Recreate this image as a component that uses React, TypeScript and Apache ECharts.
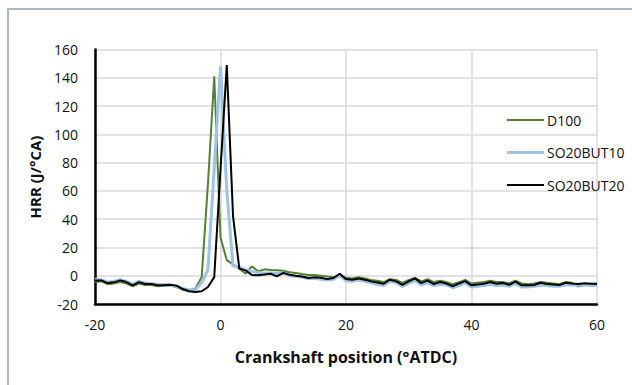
import React, { useEffect, useRef } from "react";
import * as echarts from "echarts";

const crankAngles: number[] = Array.from({ length: 81 }, (_, i) => i - 20);

const d100: number[] = [
  -4.5, -4, -6, -5.5, -4.5, -5.5, -7.5, -5.5, -6.5, -6.5,
  -7.5, -7, -7, -8, -10, -11, -9, -1, 65, 141,
  27, 11, 8, 5, 1.5, 6.6, 3, 4.5, 4, 3.8,
  3.5, 2.4, 2, 1.2, 0.5, 0.5, 0, -0.5, -1, 0.5,
  -1.5, -2, -1, -2, -3, -3.5, -4.5, -2.5, -3, -5,
  -3, -1.5, -4, -2.5, -4.5, -3.5, -4.5, -6, -4.5, -3,
  -5.5, -5, -4.5, -3.5, -4.5, -4.5, -5.5, -3.5, -5.5, -6,
  -5.5, -4.5, -5, -5.5, -6, -4.5, -5, -7.5, -6.5, -5.5,
  -5.5,
];

const so20but10: number[] = [
  -2.5, -2.8, -4.5, -4, -2.8, -4, -6, -4, -5.2, -5.5,
  -6.2, -6.2, -6.5, -7.5, -9, -10, -10, -5, 4, 76,
  148, 60, 7, 6, 4, 3, 2.2, 2, 2, 1.5,
  1.8, 0, -0.5, -1, -2, -2, -2.5, -3, -2.5, 0,
  -3.5, -4, -3, -4, -5, -6, -7, -4, -5, -7.5,
  -5.5, -3.5, -6.5, -5, -7, -6, -6.5, -8.5, -7, -5,
  -8, -7.5, -7, -6, -7, -6.5, -7.5, -5.5, -8, -8,
  -7.5, -6.5, -7, -7.5, -7.5, -6.5, -6.5, -6.5, -6.5, -7,
  -7,
];

const so20but20: number[] = [
  -3.3, -3.3, -5.2, -4.7, -3.3, -4.5, -6.8, -4.5, -5.9, -5.9,
  -6.8, -6.8, -6.4, -7, -9.4, -11, -11.5, -11, -8, -1,
  75, 149, 42, 5, 3.8, 0.5, 0.3, 0.8, 1.4, -0.5,
  2, 0.7, 0, -0.5, -1.6, -1, -1.5, -2.4, -1.6, 1.4,
  -2.4, -2.8, -1.9, -2.8, -4, -4.8, -5.7, -2.8, -4, -6.4,
  -4, -1.9, -5.2, -3.5, -5.9, -4.5, -5.5, -7.5, -5.5, -3.8,
  -6.8, -6.2, -5.7, -4.5, -5.7, -5.2, -6.4, -4.2, -6.8, -6.7,
  -6.6, -5, -5.9, -6.2, -6.6, -5, -5.5, -5.9, -5.4, -5.7,
  -5.9,
];

const seriesNames = ["D100", "SO20BUT10", "SO20BUT20"];
const seriesColors = ["#548235", "#9DC3E6", "#000000"];
const seriesWidths = [2, 3, 2];

const xTitle = "Crankshaft position (°ATDC)";
const yTitle = "HRR (J/°CA)";

const FONT = "'Open Sans', 'Noto Sans', sans-serif";

export default function App() {
  const ref = useRef<HTMLDivElement>(null);

  useEffect(() => {
    if (!ref.current) return;
    const chart = echarts.init(ref.current, undefined, { renderer: "svg" });
    const all = [d100, so20but10, so20but20];
    chart.setOption({
      animation: false,
      textStyle: { fontFamily: FONT },
      grid: { left: 95, right: 35, top: 49.5, bottom: 81, containLabel: false },
      xAxis: {
        type: "value",
        min: -20,
        max: 60,
        interval: 20,
        axisLine: { show: true, onZero: false, lineStyle: { color: "#000", width: 2.5 } },
        axisTick: { show: false },
        splitLine: { show: true, lineStyle: { color: "#d9d9d9", width: 1.5 } },
        axisLabel: { color: "#111", fontSize: 14, margin: 13, fontFamily: FONT },
      },
      yAxis: {
        type: "value",
        min: -20,
        max: 160,
        interval: 20,
        axisLine: { show: true, onZero: false, lineStyle: { color: "#000", width: 2.5 } },
        axisTick: { show: false },
        splitLine: { show: true, lineStyle: { color: "#d9d9d9", width: 1.5 } },
        axisLabel: { color: "#111", fontSize: 14, margin: 17, fontFamily: FONT },
      },
      legend: {
        orient: "vertical",
        left: 502,
        top: 108,
        itemWidth: 37,
        itemHeight: 14,
        itemGap: 18.5,
        textStyle: { color: "#111", fontSize: 14, fontFamily: FONT, padding: [0, 0, 0, -2] },
        data: seriesNames.map((name, k) => ({
          name,
          icon:
            seriesWidths[k] > 2
              ? "path://M0,5.5 L37,5.5 L37,8.5 L0,8.5 Z"
              : "path://M0,6 L37,6 L37,8 L0,8 Z",
        })),
      },
      graphic: [
        {
          type: "text",
          x: 35,
          y: 177,
          rotation: Math.PI / 2,
          style: {
            text: yTitle,
            fontSize: 15,
            fontWeight: "bold",
            fontFamily: FONT,
            fill: "#111",
            align: "center",
            verticalAlign: "middle",
          },
        },
        {
          type: "text",
          x: 346,
          y: 357,
          style: {
            text: xTitle,
            fontSize: 16,
            fontWeight: "bold",
            fontFamily: FONT,
            fill: "#111",
            align: "center",
            verticalAlign: "middle",
          },
        },
      ],
      series: seriesNames.map((name, k) => ({
        name,
        type: "line",
        symbol: "none",
        showSymbol: false,
        data: crankAngles.map((x, i) => [x, all[k][i]]),
        lineStyle: { color: seriesColors[k], width: seriesWidths[k] },
        itemStyle: { color: seriesColors[k] },
        z: 2 + k,
      })),
    });
    return () => chart.dispose();
  }, []);

  return (
    <div style={{ position: "fixed", left: 0, top: 0, width: 632, height: 385, background: "#fff", overflow: "hidden" }}>
      <div
        style={{
          position: "absolute",
          left: 7,
          top: 8,
          width: 700,
          height: 500,
          border: "2px solid #a9b7c4",
          boxSizing: "border-box",
        }}
      />
      <div ref={ref} style={{ position: "absolute", left: 0, top: 0, width: 632, height: 385 }} />
    </div>
  );
}
